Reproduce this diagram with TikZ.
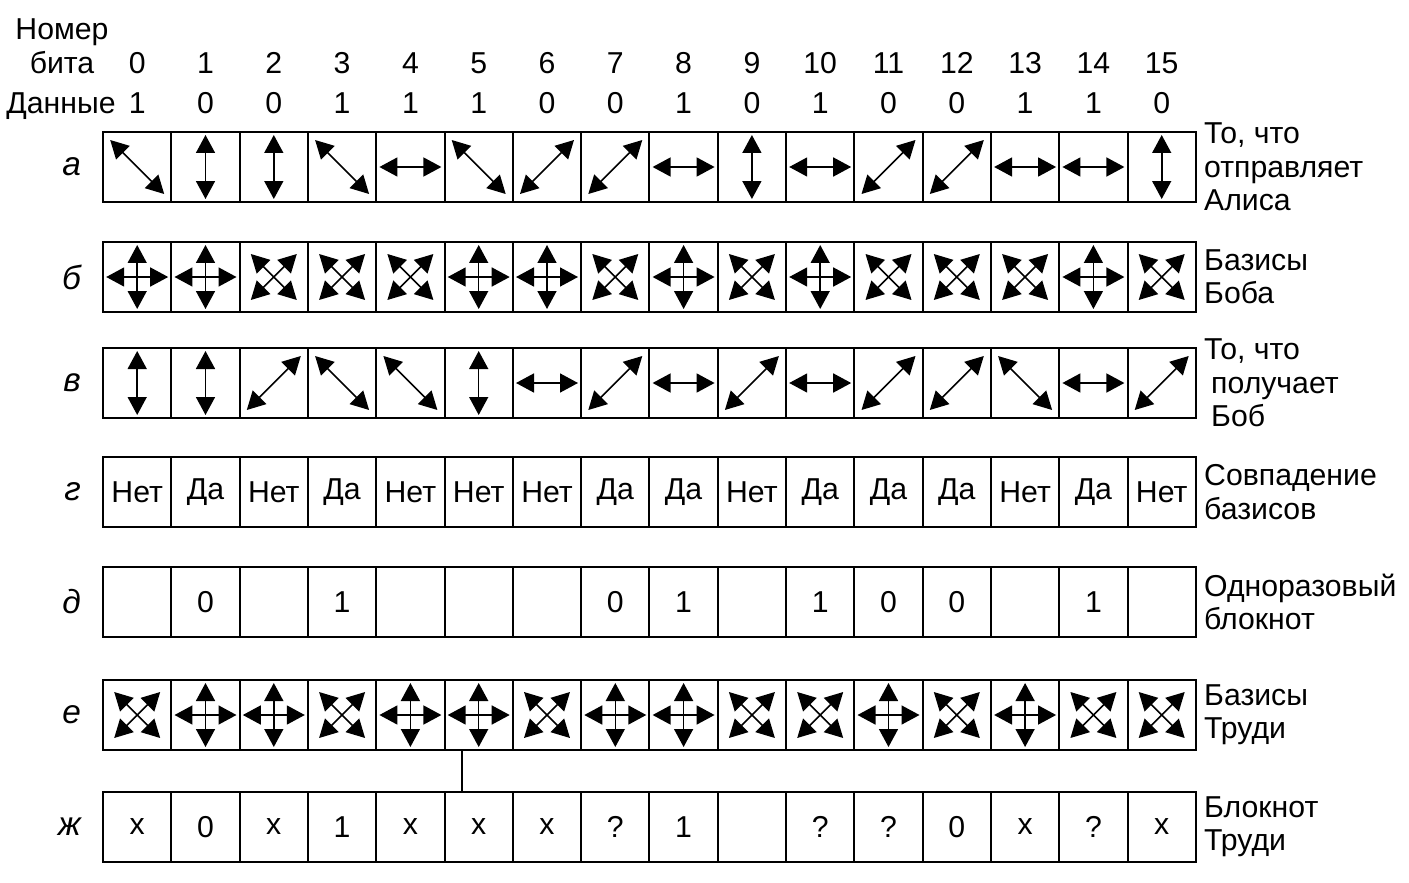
\documentclass[tikz,border=0pt]{standalone}
\usepackage{fontspec}
\setmainfont{Liberation Sans}
\usetikzlibrary{arrows.meta,positioning}
\tikzstyle{cellule}=[rectangle,draw,line width=1.1pt,
minimum width=1.366cm,minimum height=1.4cm,inner sep=0pt,
font=\fontsize{17.2}{19}\selectfont]
\tikzstyle{fleche}=[<->,>={Triangle[length=0.36cm,width=0.38cm]},line width=0.9pt]
\tikzstyle{etiquette}=[align=left,inner sep=4pt,font=\fontsize{17.2}{19}\selectfont]
\tikzstyle{lettre}=[font=\fontsize{19}{19}\selectfont\itshape]
\tikzstyle{entete}=[anchor=base,font=\fontsize{17.2}{19}\selectfont]

\newcommand{\symV}{\draw[fleche] (0,-32)--(0,32);}
\newcommand{\symH}{\draw[fleche] (-31,0)--(31,0);}
\newcommand{\symD}{\draw[fleche] (-27,-27)--(27,27);}
\newcommand{\symA}{\draw[fleche] (-27,27)--(27,-27);}
\newcommand{\symP}{\draw[fleche] (0,-32)--(0,32); \draw[fleche] (-31,0)--(31,0);}
\newcommand{\symX}{\draw[fleche] (-23,-23)--(23,23); \draw[fleche] (-23,23)--(23,-23);}
\newcommand{\symb}[2]{\begin{scope}[shift={(#2.center)}]\csname sym#1\endcsname\end{scope}}

\begin{document}
\begin{tikzpicture}[x=0.02cm,y=-0.02cm]
\useasboundingbox (0,0) rectangle (1409,882);
% en-tete
\node[entete] (nom) at (62,40) {Номер};
\node[entete] (bit) at (62,73) {бита};
\node[entete] (don) at (61,113) {Данные};
\foreach \d [count=\i from 0] in {1,0,0,1,1,1,0,0,1,0,1,0,0,1,1,0} {
  \node[entete] (num\i) at (137.2+68.3*\i,73) {\i};
  \node[entete] (dat\i) at (137.2+68.3*\i,113) {\d};
}

% a
\foreach \s [count=\i from 0] in {D,V,V,D,H,D,A,A,H,V,H,A,A,H,H,V} {
  \node[cellule] (a\i) at (137.2+68.3*\i,167) {};
  \symb{\s}{a\i}
}
\node[lettre,left=0.3cm of a0] (la) {а};
\node[etiquette,right=0pt of a15] (ta) {То, что\\отправляет\\Алиса};

% b
\foreach \s [count=\i from 0] in {P,P,X,X,X,P,P,X,P,X,P,X,X,X,P,X} {
  \node[cellule] (b\i) at (137.2+68.3*\i,277) {};
  \symb{\s}{b\i}
}
\node[lettre,left=0.3cm of b0] (lb) {б};
\node[etiquette,right=0pt of b15] (tb) {Базисы\\Боба};

% v
\foreach \s [count=\i from 0] in {V,V,A,D,D,V,H,A,H,A,H,A,A,D,H,A} {
  \node[cellule] (v\i) at (137.2+68.3*\i,383) {};
  \symb{\s}{v\i}
}
\node[lettre,left=0.3cm of v0] (lv) {в};
\node[etiquette,right=0pt of v15] (tv) {То, что\\\hspace*{0.14cm}получает\\\hspace*{0.14cm}Боб};

% g
\foreach \t [count=\i from 0] in {Нет,Да,Нет,Да,Нет,Нет,Нет,Да,Да,Нет,Да,Да,Да,Нет,Да,Нет} {
  \node[cellule] (g\i) at (137.2+68.3*\i,492) {\t};
}
\node[lettre,left=0.3cm of g0] (lg) {г};
\node[etiquette,right=0pt of g15] (tg) {Совпадение\\базисов};

% d
\foreach \t [count=\i from 0] in {{},0,{},1,{},{},{},0,1,{},1,0,0,{},1,{}} {
  \node[cellule] (d\i) at (137.2+68.3*\i,602) {\t};
}
\node[lettre,left=0.3cm of d0] (ld) {д};
\node[etiquette,right=0pt of d15] (td) {Одноразовый\\блокнот};

% e
\foreach \s [count=\i from 0] in {X,P,P,X,P,P,X,P,P,X,X,P,X,P,X,X} {
  \node[cellule] (e\i) at (137.2+68.3*\i,715) {};
  \symb{\s}{e\i}
}
\node[lettre,left=0.3cm of e0] (le) {е};
\node[etiquette,right=0pt of e15] (te) {Базисы\\Труди};

% zh
\foreach \t [count=\i from 0] in {x,0,x,1,x,x,x,?,1,{},?,?,0,x,?,x} {
  \node[cellule] (zh\i) at (137.2+68.3*\i,827) {\t};
}
\node[lettre,left=0.3cm of zh0] (lzh) {ж};
\node[etiquette,right=0pt of zh15] (tzh) {Блокнот\\Труди};

\draw[line width=0.9pt] ([xshift=-0.334cm]e5.south) -- ([xshift=-0.334cm]zh5.north);
\end{tikzpicture}
\end{document}
